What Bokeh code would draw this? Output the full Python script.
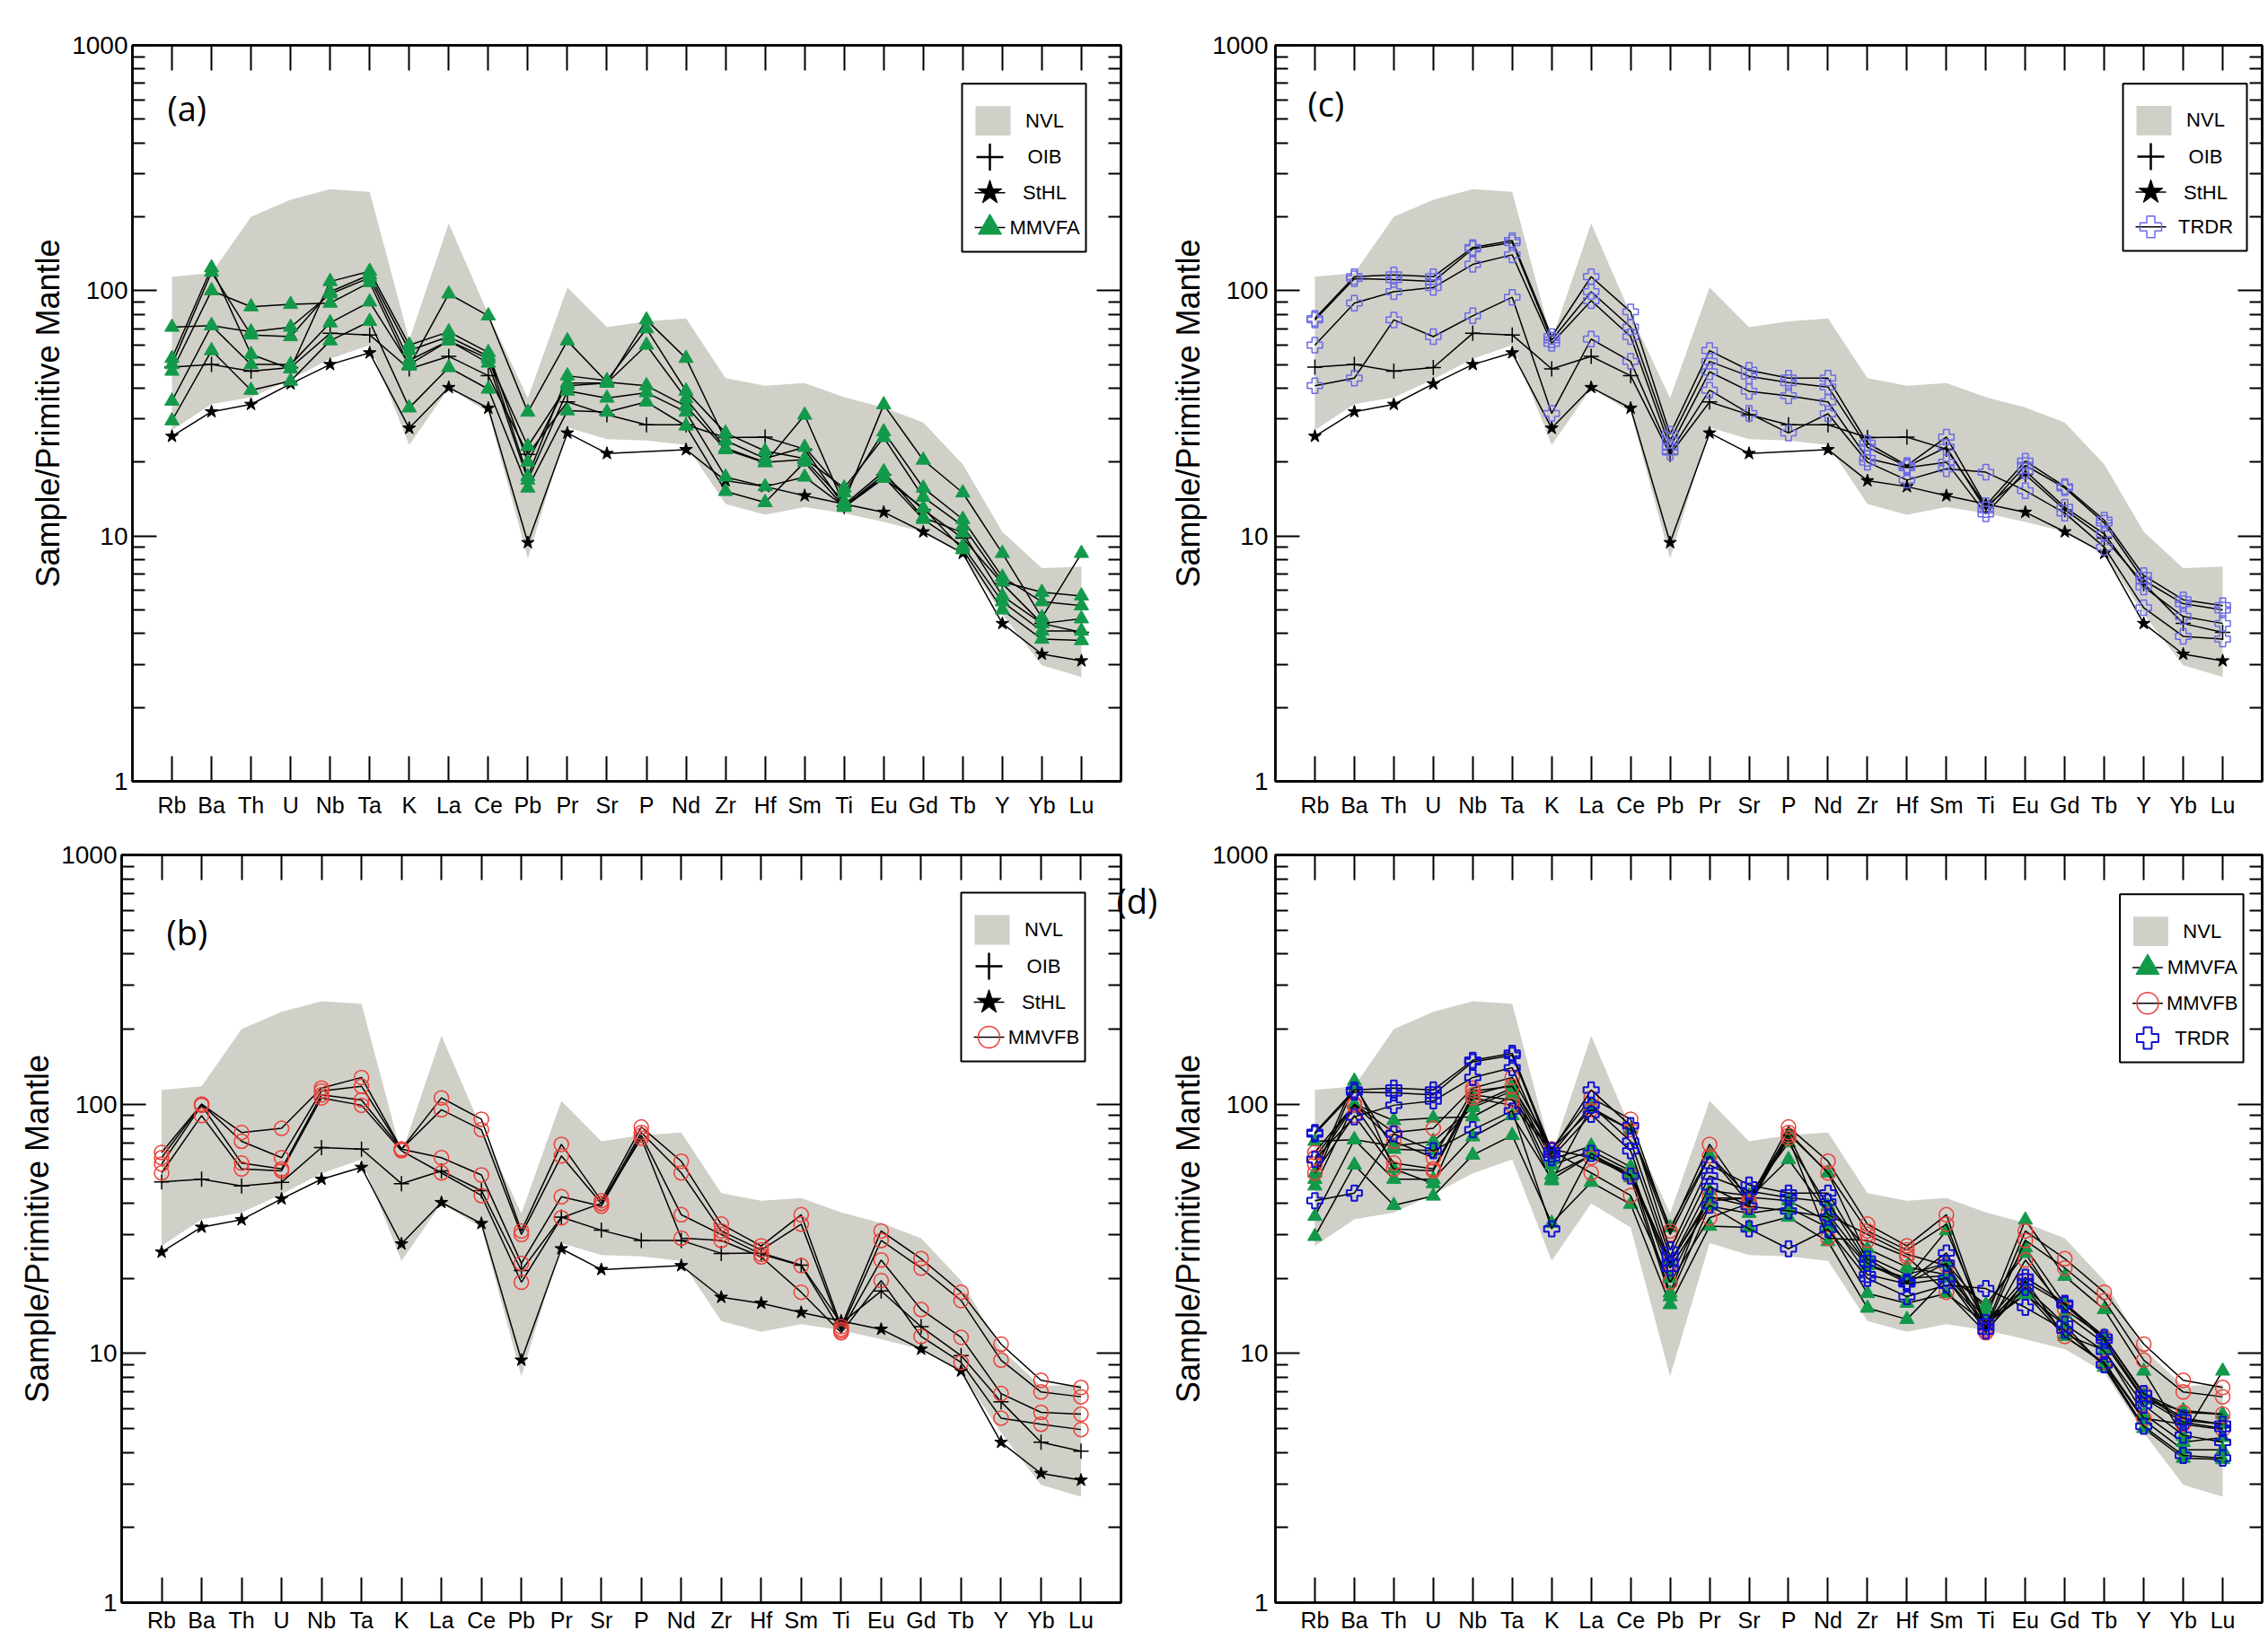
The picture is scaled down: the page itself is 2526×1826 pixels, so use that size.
from bokeh.plotting import figure
from bokeh.layouts import column, row
from bokeh.models import (FactorRange, Range1d, FixedTicker, LogAxis,
                          CategoricalAxis, PrintfTickFormatter, Label)
from bokeh.core.properties import value
from bokeh.embed import file_html
from bokeh.resources import INLINE

# element order on the x axis
elements = ["Rb", "Ba", "Th", "U", "Nb", "Ta", "K", "La", "Ce", "Pb", "Pr", "Sr",
            "P", "Nd", "Zr", "Hf", "Sm", "Ti", "Eu", "Gd", "Tb", "Y", "Yb", "Lu"]

# NVL field (shaded band)
nvl_upper = [114, 118, 200, 235, 259, 253, 63, 188, 80, 36.5, 103, 71,
             75, 77, 44, 41, 42, 36.8, 33.4, 29, 19.6, 10.4, 7.4, 7.5]
nvl_lower = [27, 34.5, 36.7, 43.5, 52.8, 60, 23.5, 40, 32, 8.1, 27.7, 24.8,
             24.5, 23.5, 13.5, 12.2, 13.1, 12.4, 11.4, 10.4, 8.4, 4.8, 2.97, 2.66]

# reference patterns
oib = [48.8, 50, 47, 48.6, 67, 66, 48, 54, 45, 21.5, 35.2, 31.2,
       28.4, 28.4, 25.2, 25.3, 22.6, 13.2, 17.8, 12.8, 9.8, 6.4, 4.4, 4.05]
sthl = [25.5, 32.1, 34.4, 41.7, 50, 55.8, 27.5, 40.3, 33.2, 9.4, 26.3, 21.7,
        None, 22.5, 16.8, 15.9, 14.6, 13.5, 12.5, 10.4, 8.5, 4.4, 3.3, 3.1]

# MMVFA samples
mmvfa_1 = [53, 124, 55, 48, 109, 120, 60, 68, 56, 20, 42, 42,
           76, 53, 24.5, 20.7, 23, 15, 26.6, 15.7, 11.7, 6.8, 5.4, 5.2]
mmvfa_2 = [50, 119, 66, 65, 99, 116, 57, 65, 54, 17.5, 45, 43,
           70, 39, 26.3, 22.2, 20.7, 15.7, 25.2, 14.4, 11, 6.5, 5.9, 5.7]
mmvfa_3 = [71, 72, 68, 71, 97, 113, 52, 62.5, 52.8, 23.2, 41, 42,
           60, 36.3, 22.8, 20, 20.5, 13.8, 34.3, 20.4, 15, 8.5, 4.65, 8.5]
mmvfa_4 = [47, 100, 86, 88, 89, 108, 49.3, 97, 79, 32, 62.5, 42.4,
           41, 33.8, 22.5, 19.9, 31.1, 13.4, 18.3, 11.9, 10.3, 5.7, 4.4, 4.6]
mmvfa_5 = [35.5, 72, 50, 50, 74, 90, 50, 62.5, 50.7, 16.9, 39, 36.5,
           38.4, 32, 17.4, 15.9, 17.4, 13.2, 17.4, 11.7, 9.1, 5.4, 4.1, 4.1]
mmvfa_6 = [29.5, 57, 39.3, 42.8, 62.5, 75, 33.3, 48.6, 39.7, 15.7, 32.4, 32,
           35.2, 28.1, 15.2, 13.7, 20, 13.1, 17.2, 13, 8.8, 5.0, 3.8, 3.75]

# MMVFB samples
mmvfb_1 = [64, 100, 77, 80, 116, 128, 66, 106, 87, 31, 69, 41,
           81, 59, 33, 27, 36, 12.8, 31, 24, 17.6, 10.9, 7.8, 7.3]
mmvfb_2 = [61, 100, 71, 61, 113, 118, 66, 95, 79, 30, 62, 40,
           77, 53, 31, 26, 33, 12.5, 28.4, 22, 16.3, 9.4, 7.0, 6.7]
mmvfb_3 = [57.5, 99, 58, 55, 109, 104, 66, 61, 52, 23, 42.5, 39,
           75, 36, 30, 25, 22.5, 12.3, 23.7, 15, 11.6, 6.9, 5.8, 5.7]
mmvfb_4 = [53, 90, 55, 54, 106, 99, 65, 53, 43, 19.3, 35, 40,
           73, 29, 28.4, 24.4, 17.6, 12.1, 19.6, 11.7, 9.2, 5.5, 5.2, 4.95]

# TRDR samples
trdr_1 = [77, 114, 116, 114, 150, 160, 65, 114, 82, 26, 57, 47.4,
          44, 44, 23.9, 19.4, 25.3, 13.3, 20.2, 15.9, 11.6, 6.9, 5.5, 5.2]
trdr_2 = [76, 112, 111, 109, 148, 157, 63, 99, 71, 24.5, 51.5, 44.8,
          42.2, 40.5, 23, 19.2, 23, 12.8, 19.4, 15.7, 11.3, 6.6, 5.3, 5.0]
trdr_3 = [60, 89, 99, 103, 128, 140, 61, 91, 65, 23, 46.7, 38.9,
          37.3, 35.2, 20.7, 19, 20, 12.3, 18.4, 13.1, 10.2, 6.2, 4.7, 4.4]
trdr_4 = [41, 44, 76, 65, 79, 94, 31.6, 63.5, 51.5, 22, 39.3, 31.6,
          26.3, 31.5, 20, 16.9, 18.8, 18.2, 15.3, 12.4, 9.0, 5.1, 3.9, 3.8]

mmvfa = [mmvfa_1, mmvfa_2, mmvfa_3, mmvfa_4, mmvfa_5, mmvfa_6]
mmvfb = [mmvfb_1, mmvfb_2, mmvfb_3, mmvfb_4]
trdr = [trdr_1, trdr_2, trdr_3, trdr_4]

NVL = "#d0d0c8"
GREEN = "#13994a"
RED = "#e8403a"
BLUE_C = "#6a6ae6"
BLUE_D = "#1010d0"
FONT = "Liberation Sans"

OIB_ST = dict(marker="cross", size=17, line_color="black", line_width=1.5)
STHL_ST = dict(marker="star", size=15, fill_color="black", line_color="black")
MMVFA_ST = dict(marker="triangle", size=16, fill_color=GREEN, line_color=GREEN)
MMVFB_ST = dict(marker="circle", size=16, fill_color=None, line_color=RED, line_width=1.5)
TRDR_C_ST = dict(marker="plus", size=17, fill_color=None, line_color=BLUE_C, line_width=1.5)
TRDR_D_ST = dict(marker="plus", size=17, fill_color=None, line_color=BLUE_D, line_width=2)

PAD = 0.5                       # factor-range padding on each side
SLOTS = len(elements) + 2 * PAD
ROWS = [41, 82, 122, 161]
LEGEND_SIZES = {"cross": 30, "star": 28, "triangle": 26, "circle": 24, "plus": 24}


class Panel:
    """A figure plus helpers mapping frame pixels to its coordinates."""

    def __init__(self, width, height, left, right, top, bottom, x_standoff, y_standoff):
        self.fw = width - left - right
        self.fh = height - top - bottom
        p = figure(width=width, height=height,
                   x_range=FactorRange(factors=elements, range_padding=PAD,
                                       range_padding_units="absolute"),
                   y_range=Range1d(1, 1000), y_axis_type="log",
                   min_border_left=left, min_border_right=right,
                   min_border_top=top, min_border_bottom=bottom,
                   output_backend="svg", toolbar_location=None)
        p.xgrid.visible = False
        p.ygrid.visible = False
        p.outline_line_color = "black"
        p.outline_line_width = 2.5
        p.background_fill_color = "white"
        p.border_fill_color = "white"

        minor = [m * 10 ** k for k in range(3) for m in range(2, 10)]

        ya = p.yaxis[0]
        ya.ticker = FixedTicker(ticks=[1, 10, 100, 1000], minor_ticks=minor)
        ya.formatter = PrintfTickFormatter(format="%d")
        ya.axis_label = "Sample/Primitive Mantle"
        ya.axis_label_text_font = FONT
        ya.axis_label_text_font_size = "36px"
        ya.axis_label_text_font_style = "normal"
        ya.axis_label_text_color = "black"
        ya.axis_label_standoff = 3
        ya.major_label_text_font = FONT
        ya.major_label_text_font_size = "28px"
        ya.major_label_text_color = "black"
        ya.major_label_standoff = y_standoff
        ya.major_tick_in = 27
        ya.major_tick_out = 0
        ya.minor_tick_in = 14
        ya.minor_tick_out = 0
        ya.major_tick_line_width = 2
        ya.minor_tick_line_width = 2
        ya.axis_line_width = 2.5

        xa = p.xaxis[0]
        xa.major_label_text_font = FONT
        xa.major_label_text_font_size = "25px"
        xa.major_label_text_color = "black"
        xa.major_label_standoff = x_standoff
        xa.major_tick_in = 28
        xa.major_tick_out = 0
        xa.major_tick_line_width = 2
        xa.axis_line_width = 2.5

        # mirrored ticks on the right and top, without labels
        ra = LogAxis(ticker=FixedTicker(ticks=[1, 10, 100, 1000], minor_ticks=minor),
                     major_label_text_font_size="0px", major_label_text_color=None,
                     major_label_standoff=0,
                     major_tick_in=27, major_tick_out=0, minor_tick_in=14, minor_tick_out=0,
                     major_tick_line_width=2, minor_tick_line_width=2, axis_line_width=2.5)
        p.add_layout(ra, "right")

        ta = CategoricalAxis(major_label_text_font_size="0px", major_label_text_color=None,
                             major_label_standoff=0,
                             major_tick_in=28, major_tick_out=0,
                             major_tick_line_width=2, axis_line_width=2.5)
        p.add_layout(ta, "above")

        p.varea(x=elements, y1=nvl_lower, y2=nvl_upper, fill_color=NVL)
        self.p = p

    # frame pixel (from left) -> synthetic categorical x
    def X(self, px):
        return -PAD + px * SLOTS / self.fw

    # frame pixel (from top) -> log-axis value
    def Y(self, top_px):
        return 10 ** (3 * (self.fh - top_px) / self.fh)

    def series(self, samples, style):
        xs, ys, px, py = [], [], [], []
        for vals in samples:
            xx = [e for e, v in zip(elements, vals) if v is not None]
            yy = [v for v in vals if v is not None]
            xs.append(xx)
            ys.append(yy)
            px += xx
            py += yy
        self.p.multi_line(xs, ys, line_color="black", line_width=1.5)
        self.p.scatter(px, py, **style)

    def legend(self, right_off, top_off, entries):
        p, X, Y = self.p, self.X, self.Y
        box_w, box_h = 138, 188
        x0 = self.fw - right_off - box_w
        p.quad(left=[X(x0)], right=[X(x0 + box_w)], top=[Y(top_off)],
               bottom=[Y(top_off + box_h)],
               fill_color="white", line_color="black", line_width=2)
        for i, (label, style, with_line) in enumerate(entries):
            cy = top_off + ROWS[i]
            if style is None:
                p.quad(left=[X(x0 + 15)], right=[X(x0 + 54)], top=[Y(cy - 16)],
                       bottom=[Y(cy + 17)], fill_color=NVL, line_color=None)
            else:
                if with_line:
                    p.segment(x0=[X(x0 + 14)], y0=[Y(cy)], x1=[X(x0 + 48)], y1=[Y(cy)],
                              line_color="black", line_width=1.5)
                st = dict(style)
                st["size"] = LEGEND_SIZES[st["marker"]]
                if st["marker"] == "cross":
                    st["line_width"] = 2.5
                p.scatter([X(x0 + 31)], [Y(cy)], **st)
            p.text(x=[X(x0 + 92)], y=[Y(cy)], text=[label], text_font=value(FONT),
                   text_font_size="22px", text_align="center", text_baseline="middle",
                   text_color="black")

    def tag(self, left_px, top_px, text):
        # screen units: offsets from the frame's left and bottom edges
        self.p.add_layout(Label(x=left_px, y=self.fh - top_px,
                                x_units="screen", y_units="screen", text=text,
                                text_font="Open Sans", text_font_size="38px",
                                text_baseline="top", text_align="left",
                                text_color="black"))

    def side_tag(self, top_px, text):
        # a letter just right of the frame, drawn as a one-tick label-only axis
        ax = LogAxis(ticker=FixedTicker(ticks=[self.Y(top_px)], minor_ticks=[]),
                     formatter=PrintfTickFormatter(format=text),
                     major_label_text_font="Open Sans", major_label_text_font_size="38px",
                     major_label_text_color="black",
                     major_label_standoff=-5, major_tick_in=0, major_tick_out=0,
                     major_tick_line_color=None, minor_tick_line_color=None,
                     axis_line_color=None)
        self.p.add_layout(ax, "right")


# (a) MMVFA
pa = Panel(1300, 925, 147, 52, 46, 55, 12, 5)
pa.series([oib], OIB_ST)
pa.series([sthl], STHL_ST)
pa.series(mmvfa, MMVFA_ST)
pa.legend(39, 43, [("NVL", None, False), ("OIB", OIB_ST, False),
                   ("StHL", STHL_ST, True), ("MMVFA", MMVFA_ST, True)])
pa.tag(39, 47, "(a)")

# (c) TRDR
pc = Panel(1222, 925, 120, 3, 50, 48, 12, 8)
pc.series([oib], OIB_ST)
pc.series([sthl], STHL_ST)
pc.series(trdr, TRDR_C_ST)
pc.legend(17, 43, [("NVL", None, False), ("OIB", OIB_ST, False),
                   ("StHL", STHL_ST, True), ("TRDR", TRDR_C_ST, True)])
pc.tag(36, 45, "(c)")

# (b) MMVFB
pb = Panel(1300, 897, 135, 52, 27, 37, 5, 5)
pb.series([oib], OIB_ST)
pb.series([sthl], STHL_ST)
pb.series(mmvfb, MMVFB_ST)
pb.legend(40, 42, [("NVL", None, False), ("OIB", OIB_ST, False),
                   ("StHL", STHL_ST, True), ("MMVFB", MMVFB_ST, True)])
pb.tag(50, 59, "(b)")
pb.side_tag(50, "(d)")

# (d) all groups
pd_ = Panel(1222, 897, 116, 3, 23, 37, 5, 8)
pd_.series(mmvfa, MMVFA_ST)
pd_.series(mmvfb, MMVFB_ST)
pd_.series(trdr, TRDR_D_ST)
pd_.legend(21, 44, [("NVL", None, False), ("MMVFA", MMVFA_ST, True),
                    ("MMVFB", MMVFB_ST, True), ("TRDR", TRDR_D_ST, False)])

layout = column(row(pa.p, pc.p), row(pb.p, pd_.p))
open("out.html", "w").write(file_html(layout, INLINE))
